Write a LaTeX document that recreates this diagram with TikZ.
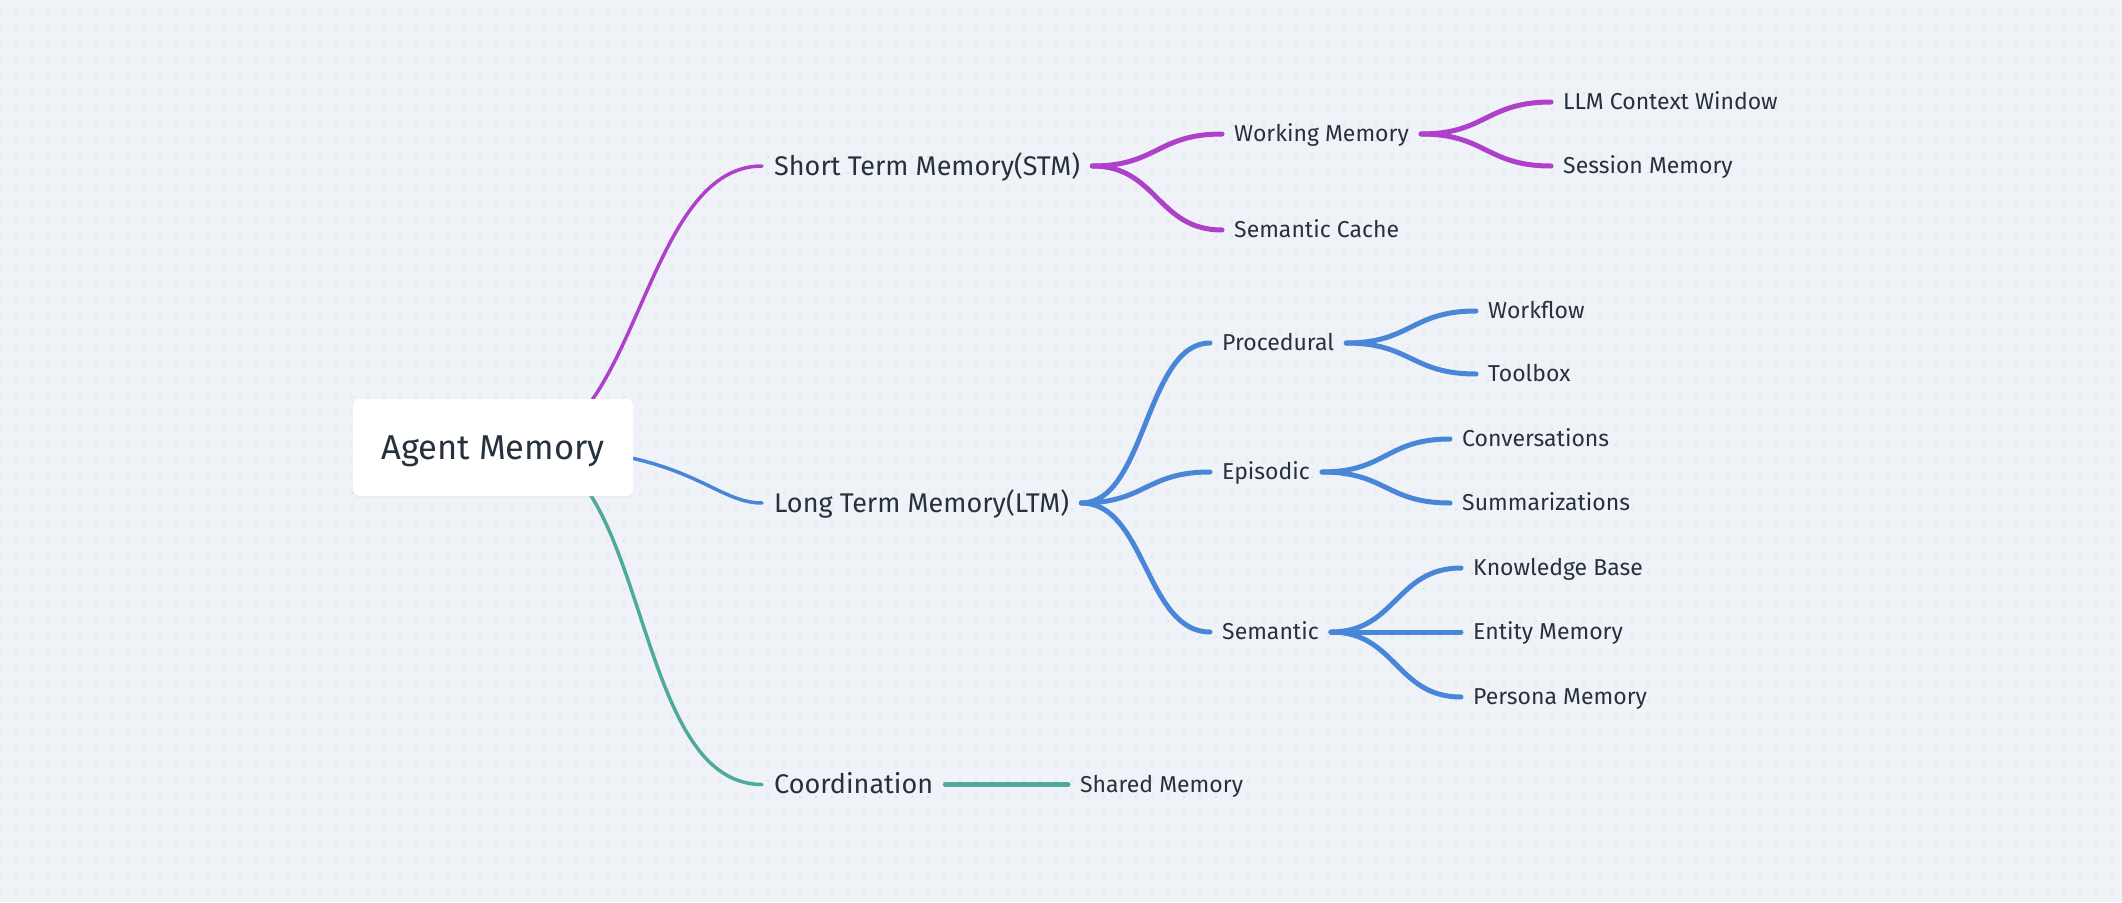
\documentclass[tikz,border=0pt]{standalone}
\usepackage{fontspec}
\setmainfont{Fira Sans}
\usetikzlibrary{calc,shadows}
\definecolor{canvas}{HTML}{EFF3F7}
\definecolor{griddot}{HTML}{D8DEE5}
\definecolor{ink}{HTML}{27303D}
\definecolor{stmc}{HTML}{AE40CA}
\definecolor{ltmc}{HTML}{4A86D7}
\definecolor{coordc}{HTML}{50AA9B}
\pgfdeclarelayer{grid}
\pgfdeclarelayer{wires}
\pgfsetlayers{grid,wires,main}
\tikzset{
  rootbox/.style={fill=white, rounded corners=7pt, minimum width=280pt, minimum height=97pt, text height=23.8pt, text depth=0pt, text=ink, font=\fontsize{34.5}{38}\selectfont, drop shadow={opacity=0.05, shadow xshift=0pt, shadow yshift=-2pt}},
  topic/.style={anchor=west, inner xsep=12pt, inner ysep=0pt, text height=18.6pt, text depth=0pt, text=ink, font=\fontsize{27}{30}\selectfont},
  subtopic/.style={topic, text height=15.9pt, font=\fontsize{23}{26}\selectfont},
  trunk/.style={line width=3.5pt, line cap=round},
  twig/.style={line width=5pt, line cap=round},
  branch/.style={to path={let \p1=(\tikztostart), \p2=(\tikztotarget) in .. controls (\x1/2+\x2/2,\y1) and (\x1/2+\x2/2,\y2) .. (\p2)}},
}

\begin{document}
\begin{tikzpicture}[x=1pt, y=-1pt]
\useasboundingbox (0,0) rectangle (2122,902);
\begin{pgfonlayer}{grid}
\fill[canvas] (0,0) rectangle (2122,902);
\foreach \j in {0,...,55} {
  \fill[griddot] \foreach \i in {0,...,132} {(\i*16,\j*16+13) circle (1.1pt)};
}
\end{pgfonlayer}
% root
\node[rootbox] (agent) at (493,447.5) {Agent Memory};
\coordinate (hub) at (518,447);
% first level
\node[topic] (stm) at (762,166) {Short Term Memory(STM)};
\node[topic] (ltm) at (762,503) {Long Term Memory(LTM)};
\node[topic] (coord) at (762,784.5) {Coordination};
% short term
\node[subtopic] (work) at (1222,134) {Working Memory};
\node[subtopic] (cache) at (1222,230) {Semantic Cache};
\node[subtopic] (llm) at (1551,102) {LLM Context Window};
\node[subtopic] (session) at (1551,166) {Session Memory};
% long term
\node[subtopic] (proc) at (1210,343) {Procedural};
\node[subtopic] (epi) at (1210,472) {Episodic};
\node[subtopic] (sem) at (1210,632) {Semantic};
\node[subtopic] (flow) at (1476,311) {Workflow};
\node[subtopic] (tools) at (1476,374) {Toolbox};
\node[subtopic] (conv) at (1450,439) {Conversations};
\node[subtopic] (summ) at (1450,503) {Summarizations};
\node[subtopic] (kb) at (1461,568) {Knowledge Base};
\node[subtopic] (entity) at (1461,632) {Entity Memory};
\node[subtopic] (persona) at (1461,697) {Persona Memory};
% coordination
\node[subtopic] (shared) at (1068,784.5) {Shared Memory};
\begin{pgfonlayer}{wires}
\draw[trunk, stmc] (hub) .. controls +(120,0) and +(-120,0) .. (stm.west);
\draw[trunk, ltmc] (hub) .. controls +(170,0) and +(-50,0) .. (ltm.west);
\draw[trunk, coordc] (hub) .. controls +(133,0) and +(-133,0) .. (coord.west);
\draw[twig, stmc] (stm.east) to[branch] (work.west);
\draw[twig, stmc] (stm.east) to[branch] (cache.west);
\draw[twig, stmc] (work.east) to[branch] (llm.west);
\draw[twig, stmc] (work.east) to[branch] (session.west);
\draw[twig, ltmc] (ltm.east) to[branch] (proc.west);
\draw[twig, ltmc] (ltm.east) to[branch] (epi.west);
\draw[twig, ltmc] (ltm.east) to[branch] (sem.west);
\draw[twig, ltmc] (proc.east) to[branch] (flow.west);
\draw[twig, ltmc] (proc.east) to[branch] (tools.west);
\draw[twig, ltmc] (epi.east) to[branch] (conv.west);
\draw[twig, ltmc] (epi.east) to[branch] (summ.west);
\draw[twig, ltmc] (sem.east) to[branch] (kb.west);
\draw[twig, ltmc] (sem.east) to[branch] (entity.west);
\draw[twig, ltmc] (sem.east) to[branch] (persona.west);
\draw[twig, coordc] (coord.east) -- (shared.west);
\end{pgfonlayer}
\end{tikzpicture}
\end{document}
